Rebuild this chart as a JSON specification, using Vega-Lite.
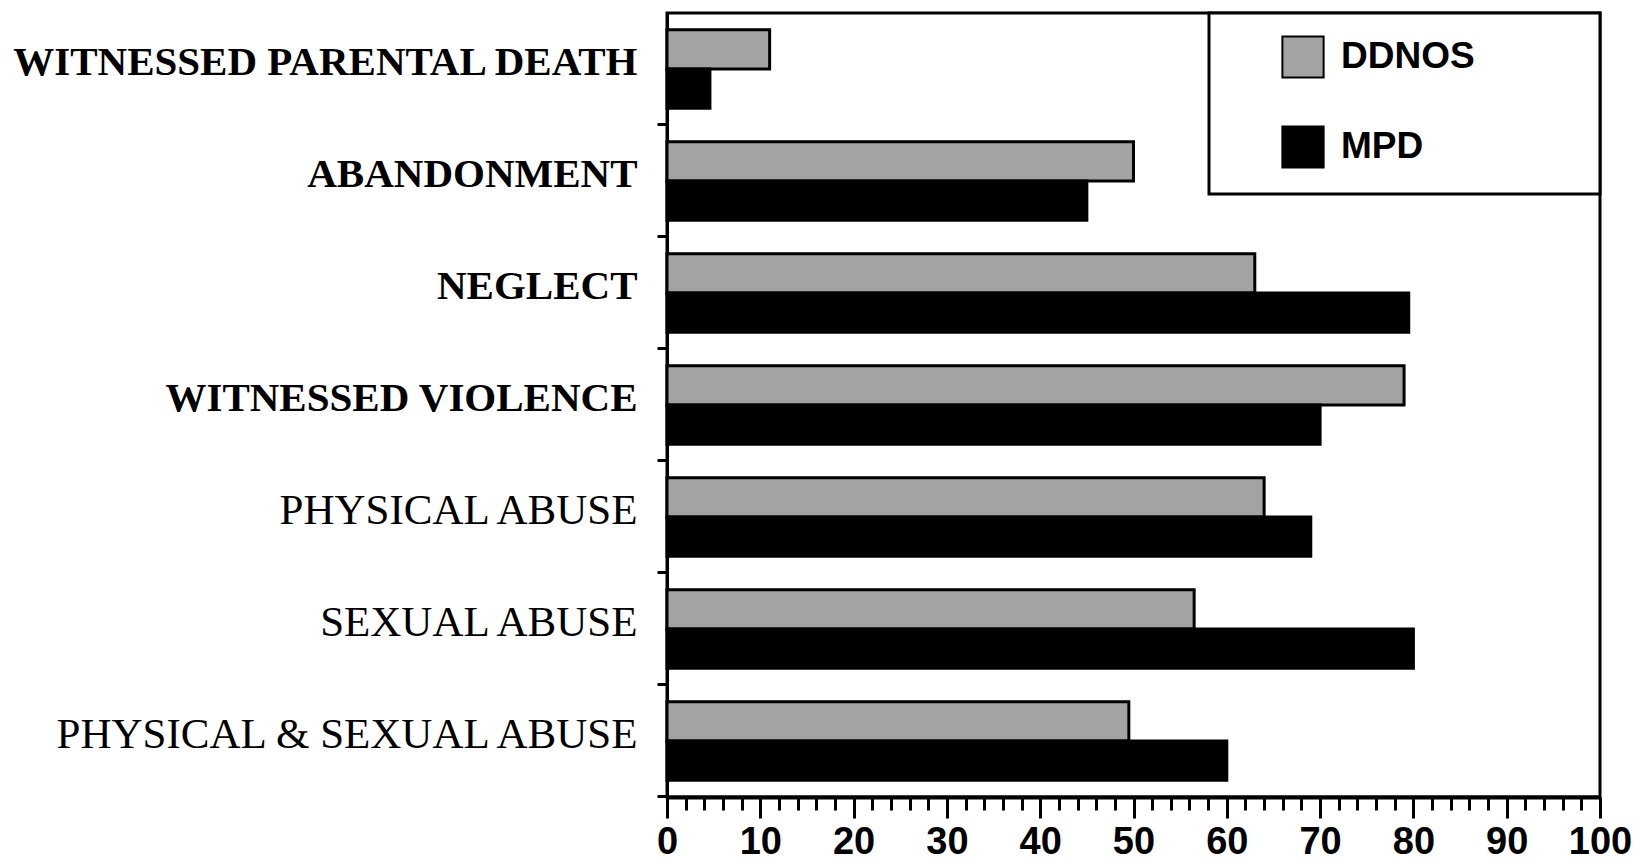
{
  "$schema": "https://vega.github.io/schema/vega-lite/v6.json",
  "autosize": "none",
  "width": 933,
  "height": 784,
  "padding": {"left": 667, "top": 13, "right": 33, "bottom": 69},
  "background": "white",
  "view": {"stroke": "black", "strokeWidth": 3},
  "data": {
    "values": [
      {"category": "WITNESSED PARENTAL DEATH", "group": "DDNOS", "value": 11},
      {"category": "WITNESSED PARENTAL DEATH", "group": "MPD", "value": 4.6},
      {"category": "ABANDONMENT", "group": "DDNOS", "value": 50},
      {"category": "ABANDONMENT", "group": "MPD", "value": 45},
      {"category": "NEGLECT", "group": "DDNOS", "value": 63},
      {"category": "NEGLECT", "group": "MPD", "value": 79.5},
      {"category": "WITNESSED VIOLENCE", "group": "DDNOS", "value": 79},
      {"category": "WITNESSED VIOLENCE", "group": "MPD", "value": 70},
      {"category": "PHYSICAL ABUSE", "group": "DDNOS", "value": 64},
      {"category": "PHYSICAL ABUSE", "group": "MPD", "value": 69},
      {"category": "SEXUAL ABUSE", "group": "DDNOS", "value": 56.5},
      {"category": "SEXUAL ABUSE", "group": "MPD", "value": 80},
      {"category": "PHYSICAL  & SEXUAL ABUSE", "group": "DDNOS", "value": 49.5},
      {"category": "PHYSICAL  & SEXUAL ABUSE", "group": "MPD", "value": 60}
    ]
  },
  "mark": {"type": "bar", "stroke": "black", "strokeWidth": 3},
  "encoding": {
    "y": {
      "field": "category",
      "type": "nominal",
      "sort": ["WITNESSED PARENTAL DEATH", "ABANDONMENT", "NEGLECT", "WITNESSED VIOLENCE", "PHYSICAL ABUSE", "SEXUAL ABUSE", "PHYSICAL  & SEXUAL ABUSE"],
      "scale": {"paddingInner": 0.3, "paddingOuter": 0.15},
      "axis": {
        "title": null,
        "bandPosition": 1.214,
        "tickExtra": false,
        "labelOffset": -6,
        "domainColor": "black",
        "domainWidth": 3,
        "tickColor": "black",
        "tickWidth": 3,
        "tickSize": 10,
        "labelFont": "Liberation Serif",
        "labelFontSize": {
          "condition": {"test": "indexof(['WITNESSED PARENTAL DEATH','ABANDONMENT','NEGLECT','WITNESSED VIOLENCE'], datum.value) >= 0", "value": 41},
          "value": 43
        },
        "labelColor": "black",
        "labelPadding": 20,
        "labelLimit": 700,
        "labelFontWeight": {
          "condition": {"test": "indexof(['WITNESSED PARENTAL DEATH','ABANDONMENT','NEGLECT','WITNESSED VIOLENCE'], datum.value) >= 0", "value": "bold"},
          "value": "normal"
        }
      }
    },
    "yOffset": {"field": "group", "type": "nominal", "sort": ["DDNOS", "MPD"]},
    "x": {
      "field": "value",
      "type": "quantitative",
      "scale": {"domain": [0, 100], "nice": false},
      "axis": {
        "title": null,
        "grid": false,
        "values": [0,2,4,6,8,10,12,14,16,18,20,22,24,26,28,30,32,34,36,38,40,42,44,46,48,50,52,54,56,58,60,62,64,66,68,70,72,74,76,78,80,82,84,86,88,90,92,94,96,98,100],
        "tickSize": {"condition": {"test": "datum.value % 10 === 0", "value": 21}, "value": 13},
        "tickWidth": 3,
        "tickColor": "black",
        "domainColor": "black",
        "domainWidth": 4,
        "labelExpr": "datum.value % 10 === 0 ? datum.label : ''",
        "labelFont": "Liberation Sans",
        "labelFontWeight": "bold",
        "labelFontSize": 38,
        "labelColor": "black",
        "labelPadding": 5,
        "labelFlush": false,
        "labelOverlap": false
      }
    },
    "color": {
      "field": "group",
      "type": "nominal",
      "scale": {"domain": ["DDNOS", "MPD"], "range": ["#a3a3a3", "#000000"]},
      "legend": {
        "title": " ",
        "titleOrient": "right",
        "titlePadding": 103,
        "orient": "top-right",
        "offset": 0,
        "strokeColor": "black",
        "fillColor": "white",
        "padding": 22,
        "symbolType": "square",
        "symbolSize": 1700,
        "symbolStrokeColor": "black",
        "symbolStrokeWidth": 2,
        "symbolOffset": 50,
        "labelFont": "Liberation Sans",
        "labelFontWeight": "bold",
        "labelFontSize": 37,
        "labelColor": "black",
        "labelOffset": 16,
        "rowPadding": 40,
        "encode": {"legend": {"update": {"strokeWidth": {"value": 3}}}}
      }
    }
  }
}
